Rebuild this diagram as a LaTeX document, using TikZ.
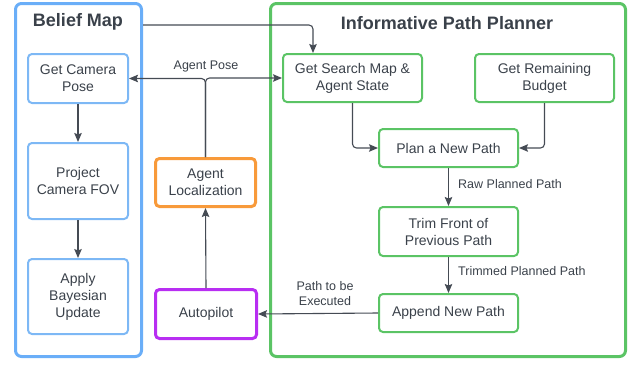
\documentclass[tikz,border=0pt]{standalone}
\usepackage{fontspec}
\setmainfont{Liberation Sans}
\usetikzlibrary{arrows.meta}
\definecolor{txt}{HTML}{3A414A}
\definecolor{bblue}{HTML}{6AAEF8}
\definecolor{lblue}{HTML}{7DB8F5}
\definecolor{ggreen}{HTML}{5BC465}
\definecolor{oorange}{HTML}{F89A3A}
\definecolor{ppurple}{HTML}{B82EF2}
\definecolor{conn}{HTML}{454B54}
\begin{document}
\begin{tikzpicture}[x=1pt,y=-1pt,
  every node/.style={text=txt},
  boxtext/.style={font=\fontsize{14}{17}\selectfont, align=center, inner sep=0pt},
  lbl/.style={font=\fontsize{12.5}{15}\selectfont, align=center, inner sep=0pt},
  ttl/.style={font=\bfseries\fontsize{18}{21}\selectfont, inner sep=0pt},
  outerbox/.style={draw, line width=3pt, rounded corners=6pt, inner sep=0pt},
  bluebox/.style={boxtext, draw=lblue, line width=2pt, rounded corners=4pt},
  greenbox/.style={boxtext, draw=ggreen, line width=2pt, rounded corners=4pt},
  orangebox/.style={boxtext, draw=oorange, line width=3pt, rounded corners=4pt},
  purplebox/.style={boxtext, draw=ppurple, line width=3pt, rounded corners=4pt},
  arr/.style={draw=conn, line width=1.1pt, rounded corners=4pt, -{Stealth[length=9pt,width=7.5pt,inset=1.5pt]}}
]
\useasboundingbox (0,0) rectangle (642,364);
% containers
\node[outerbox, draw=bblue, minimum width=126, minimum height=353] (bm) at (78.5,180) {};
\node[outerbox, draw=ggreen, minimum width=355, minimum height=353] (ipp) at (448,180) {};
\node[ttl] (bmt) at (78,22) {Belief Map};
\node[ttl] (ippt) at (447,23) {Informative Path Planner};
% belief map boxes
\node[bluebox, minimum width=100, minimum height=49] (cam) at (78,78.5) {Get Camera\\Pose};
\node[bluebox, minimum width=100, minimum height=76] (fov) at (78,181) {Project\\Camera FOV};
\node[bluebox, minimum width=100, minimum height=75] (bay) at (78,296.5) {Apply\\Bayesian\\Update};
% middle
\node[orangebox, minimum width=100, minimum height=48] (loc) at (205.5,182.5) {Agent\\Localization};
\node[purplebox, minimum width=101, minimum height=49] (auto) at (206,314) {Autopilot};
% planner boxes
\node[greenbox, minimum width=139, minimum height=48] (search) at (352.5,78) {Get Search Map \&\\Agent State};
\node[greenbox, minimum width=139, minimum height=48] (budget) at (544.5,78) {Get Remaining\\Budget};
\node[greenbox, minimum width=139, minimum height=38] (plan) at (448.5,148) {Plan a New Path};
\node[greenbox, minimum width=139, minimum height=49] (trim) at (448.5,231.5) {Trim Front of\\Previous Path};
\node[greenbox, minimum width=139, minimum height=38] (append) at (448.5,313) {Append New Path};
% connectors
\coordinate (bmout) at (bm.east |- 0,25);
\draw[arr] (bmout) -| ([xshift=-39.5]search.north);
\draw[arr] (loc.north) |- (cam.east);
\draw[arr] (loc.north) |- (search.west);
\node[lbl] (aplbl) at (206,66) {Agent Pose};
\draw[arr] (auto.north) -- (loc.south);
\draw[arr] (cam.south) -- (fov.north);
\draw[arr] (fov.south) -- (bay.north);
\draw[arr] (search.south) |- (plan.west);
\draw[arr] (budget.south) |- (plan.east);
\draw[arr] (plan.south) -- (trim.north);
\node[lbl, anchor=west] (rawlbl) at (458,184) {Raw Planned Path};
\draw[arr] (trim.south) -- (append.north);
\node[lbl, anchor=west] (trimlbl) at (458,271.5) {Trimmed Planned Path};
\draw[arr] (append.west) -- (auto.east);
\node[lbl] (exlbl) at (325,293.5) {Path to be\\Executed};
\end{tikzpicture}
\end{document}
